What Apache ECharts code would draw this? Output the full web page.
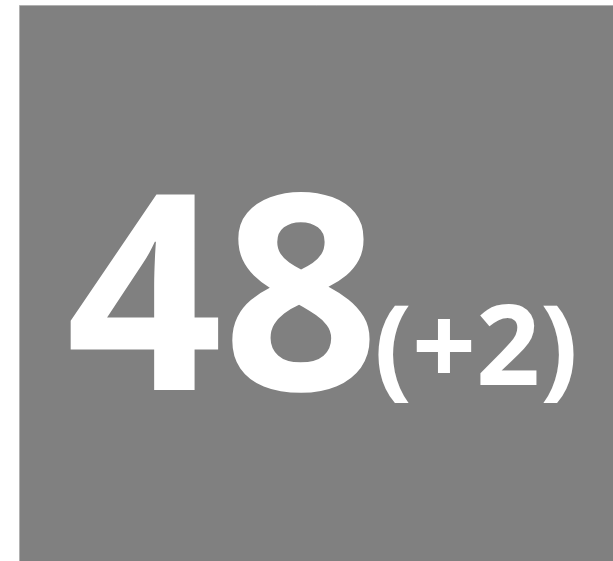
<!DOCTYPE html>
<html>
<head>
<meta charset="utf-8">
<script src="https://cdn.jsdelivr.net/npm/echarts@6/dist/echarts.min.js"></script>
<style>
  html, body { margin: 0; padding: 0; background: #ffffff; }
  #main { width: 613px; height: 561px; }
</style>
</head>
<body>
<div id="main"></div>
<script>
  // KPI tile values
  var kpiValue = [48];
  var kpiDelta = [2];

  var chart = echarts.init(document.getElementById('main'));
  var deltaText = '(' + (kpiDelta[0] >= 0 ? '+' : '') + kpiDelta[0] + ')';

  var option = {
    backgroundColor: '#ffffff',
    graphic: [
      {
        type: 'rect',
        shape: { x: 19.5, y: 5.5, width: 600, height: 560 },
        style: { fill: '#808080', stroke: '#b0b0b0', lineWidth: 1 }
      },
      {
        type: 'text',
        x: 66,
        y: 312,
        style: {
          text: String(kpiValue[0]),
          fontFamily: '"Open Sans"',
          fontWeight: 'bold',
          fontSize: 274,
          fill: '#ffffff',
          align: 'left',
          verticalAlign: 'middle'
        }
      },
      {
        type: 'text',
        x: 374,
        y: 353,
        style: {
          text: deltaText,
          fontFamily: '"Open Sans"',
          fontWeight: 'bold',
          fontSize: 112,
          fill: '#ffffff',
          align: 'left',
          verticalAlign: 'middle'
        }
      }
    ]
  };
  chart.setOption(option);
</script>
</body>
</html>
